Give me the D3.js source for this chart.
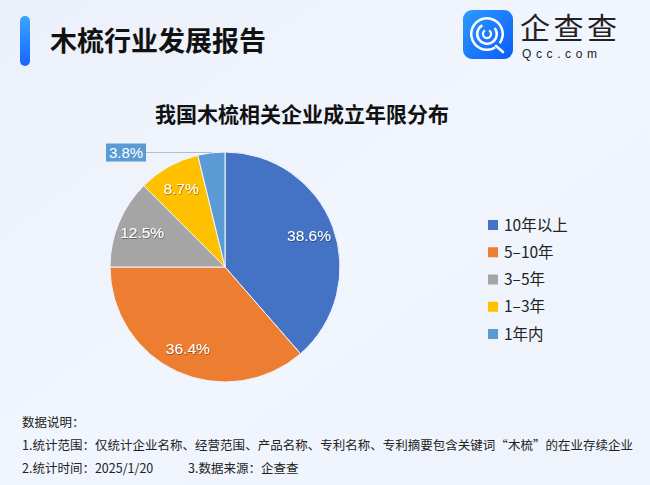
<!DOCTYPE html>
<html>
<head>
<meta charset="utf-8">
<script src="https://cdn.jsdelivr.net/npm/d3@7"></script>
<style>
  html, body { margin: 0; padding: 0; }
  body { width: 650px; height: 485px; overflow: hidden; }
</style>
</head>
<body>
<div id="chart"></div>
<script>
const categories = ["10年以上", "5-10年", "3-5年", "1-3年", "1年内"];
const shares = [38.6, 36.4, 12.5, 8.7, 3.8];
const colors = ["#4472C4", "#ED7D31", "#A5A5A5", "#FFC000", "#5B9BD5"];
const notes = [
    "数据说明：",
    "1.统计范围：仅统计企业名称、经营范围、产品名称、专利名称、专利摘要包含关键词“木梳”的在业存续企业",
    "2.统计时间：2025/1/20",
    "3.数据来源：企查查"
];

const W = 650, H = 485;
const cjk = "'Noto Sans CJK SC', 'Noto Sans', sans-serif";
const latin = "'Liberation Sans', Arial, 'Noto Sans CJK SC', sans-serif";

const svg = d3.select("#chart").append("svg")
    .attr("width", W).attr("height", H);

const defs = svg.append("defs");
const bg = defs.append("linearGradient").attr("id", "bg")
    .attr("x1", 0).attr("y1", 0).attr("x2", 1).attr("y2", 1);
bg.append("stop").attr("offset", "0%").attr("stop-color", "#EBF0FA");
bg.append("stop").attr("offset", "50%").attr("stop-color", "#F1F5FD");
bg.append("stop").attr("offset", "100%").attr("stop-color", "#EEF3FC");

const barGrad = defs.append("linearGradient").attr("id", "bar")
    .attr("x1", 0).attr("y1", 0).attr("x2", 0).attr("y2", 1);
barGrad.append("stop").attr("offset", "0%").attr("stop-color", "#3AA6FF");
barGrad.append("stop").attr("offset", "100%").attr("stop-color", "#1565FF");

const logoGrad = defs.append("linearGradient").attr("id", "logo")
    .attr("x1", 0).attr("y1", 0).attr("x2", 1).attr("y2", 1);
logoGrad.append("stop").attr("offset", "0%").attr("stop-color", "#2C9BFF");
logoGrad.append("stop").attr("offset", "100%").attr("stop-color", "#0B5CFA");

const shadow = defs.append("filter").attr("id", "tshadow")
    .attr("x", "-20%").attr("y", "-20%").attr("width", "140%").attr("height", "140%");
shadow.append("feDropShadow").attr("dx", 0.6).attr("dy", 0.8)
    .attr("stdDeviation", 0.6).attr("flood-color", "#000").attr("flood-opacity", 0.45);

svg.append("rect").attr("width", W).attr("height", H).attr("fill", "url(#bg)");

// header
svg.append("rect").attr("x", 20).attr("y", 16).attr("width", 10).attr("height", 50)
    .attr("rx", 5).attr("fill", "url(#bar)");
svg.append("text").attr("x", 50).attr("y", 51)
    .attr("font-family", cjk).attr("font-size", 27).attr("font-weight", 700)
    .attr("fill", "#111").text("木梳行业发展报告");

// logo
const logo = svg.append("g").attr("transform", "translate(463,10)");
logo.append("rect").attr("width", 50).attr("height", 49).attr("rx", 9).attr("fill", "url(#logo)");
const ring = d3.arc();
logo.append("path").attr("transform", "translate(24,24)")
    .attr("d", ring({innerRadius: 14.5, outerRadius: 17, startAngle: 2.6, endAngle: 2 * Math.PI + 2.2}))
    .attr("fill", "#fff");
logo.append("path").attr("transform", "translate(24,24)")
    .attr("d", ring({innerRadius: 8.5, outerRadius: 11, startAngle: 0.9, endAngle: 2 * Math.PI - 0.5}))
    .attr("fill", "#fff");
logo.append("path").attr("transform", "translate(24,24)")
    .attr("d", ring({innerRadius: 3, outerRadius: 5.2, startAngle: 0.5, endAngle: 2 * Math.PI - 0.5}))
    .attr("fill", "#fff");
logo.append("line").attr("x1", 33).attr("y1", 36).attr("x2", 40).attr("y2", 42)
    .attr("stroke", "#fff").attr("stroke-width", 2.6).attr("stroke-linecap", "round");
svg.append("text").attr("x", 520).attr("y", 39)
    .attr("font-family", cjk).attr("font-size", 30).attr("font-weight", 400)
    .attr("fill", "#222").attr("textLength", 97).text("企查查");
svg.append("text").attr("x", 522).attr("y", 58)
    .attr("font-family", latin).attr("font-size", 12).attr("letter-spacing", 4.6)
    .attr("fill", "#222").text("Qcc.com");

// chart title
svg.append("text").attr("x", 302).attr("y", 122).attr("text-anchor", "middle")
    .attr("font-family", cjk).attr("font-size", 21).attr("font-weight", 700)
    .attr("fill", "#111").text("我国木梳相关企业成立年限分布");

// pie
const cx = 225, cy = 267, R = 115;
const data = categories.map((c, i) => ({cat: c, value: shares[i], color: colors[i]}));
const pie = d3.pie().value(d => d.value).sort(null);
const arcs = pie(data);
const arc = d3.arc().innerRadius(0).outerRadius(R);
const labelArc = d3.arc().innerRadius(R * 0.78).outerRadius(R * 0.78);
const outerArc = d3.arc().innerRadius(R).outerRadius(R);

const g = svg.append("g").attr("transform", `translate(${cx},${cy})`);
g.selectAll("path.slice").data(arcs).join("path")
    .attr("class", "slice")
    .attr("d", arc)
    .attr("fill", d => d.data.color)
    .attr("stroke", "#F2F5FC").attr("stroke-width", 1);

const inside = arcs.filter(d => d.data.value >= 5);
g.selectAll("text.lbl").data(inside).join("text")
    .attr("class", "lbl")
    .attr("transform", d => `translate(${labelArc.centroid(d)})`)
    .attr("text-anchor", "middle").attr("dy", "0.36em")
    .attr("font-family", latin).attr("font-size", 15.5)
    .attr("fill", "#fff").attr("filter", "url(#tshadow)")
    .text(d => d.data.value.toFixed(1) + "%");

// small slice callout
const small = arcs.filter(d => d.data.value < 5);
small.forEach(d => {
    const p = outerArc.centroid(d);
    const bx = 146 - cx, by = 152.5 - cy;
    g.append("line").attr("x1", p[0]).attr("y1", by).attr("x2", bx).attr("y2", by)
        .attr("stroke", "#B8BCC4").attr("stroke-width", 1);
    g.append("rect").attr("x", bx - 40).attr("y", by - 9).attr("width", 40).attr("height", 18)
        .attr("fill", d.data.color);
    g.append("text").attr("x", bx - 20).attr("y", by).attr("dy", "0.36em")
        .attr("text-anchor", "middle")
        .attr("font-family", latin).attr("font-size", 15).attr("fill", "#fff")
        .text(d.data.value.toFixed(1) + "%");
});

// legend
const legendY = d3.scalePoint().domain(categories).range([225, 334]);
const lg = svg.append("g");
lg.selectAll("rect").data(data).join("rect")
    .attr("x", 488).attr("y", d => legendY(d.cat) - 5)
    .attr("width", 10).attr("height", 10).attr("fill", d => d.color);
lg.selectAll("text").data(data).join("text")
    .attr("x", 504).attr("y", d => legendY(d.cat)).attr("dy", "0.36em")
    .attr("font-family", cjk).attr("font-size", 15.5).attr("fill", "#222")
    .text(d => d.cat.replace("-", "–"));

// notes
const nf = svg.append("g").attr("font-family", cjk).attr("font-size", 12.5).attr("fill", "#222");
nf.append("text").attr("x", 22).attr("y", 427).text(notes[0]);
nf.append("text").attr("x", 22).attr("y", 450).attr("textLength", 611).text(notes[1]);
nf.append("text").attr("x", 22).attr("y", 473).text(notes[2]);
nf.append("text").attr("x", 188).attr("y", 473).text(notes[3]);
</script>
</body>
</html>
